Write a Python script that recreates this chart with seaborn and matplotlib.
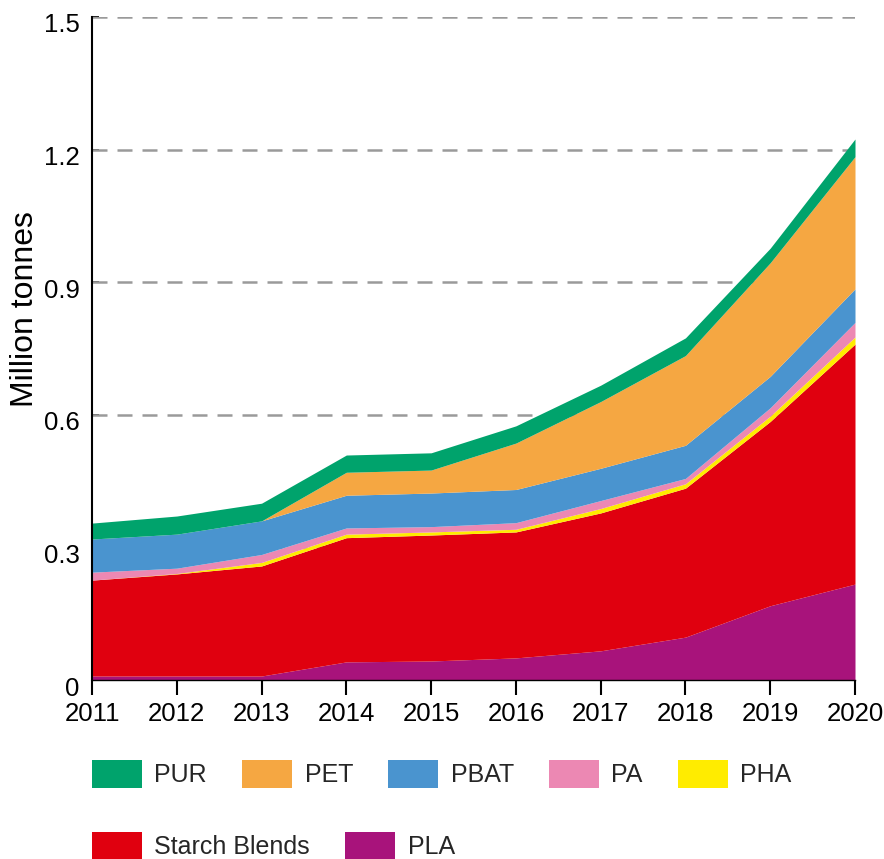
import matplotlib
matplotlib.use("Agg")
import matplotlib.pyplot as plt
import matplotlib.transforms as mtransforms
from matplotlib.patches import Patch
import seaborn as sns

years = [2011, 2012, 2013, 2014, 2015, 2016, 2017, 2018, 2019, 2020]

# stacked from the bottom up, million tonnes
pla = [0.009, 0.009, 0.009, 0.041, 0.043, 0.050, 0.066, 0.097, 0.168, 0.217]
starch = [0.217, 0.231, 0.249, 0.281, 0.285, 0.285, 0.312, 0.337, 0.417, 0.543]
pha = [0.000, 0.001, 0.008, 0.008, 0.007, 0.006, 0.010, 0.010, 0.012, 0.016]
pa = [0.018, 0.012, 0.018, 0.014, 0.012, 0.015, 0.018, 0.012, 0.019, 0.033]
pbat = [0.075, 0.077, 0.076, 0.074, 0.076, 0.075, 0.073, 0.075, 0.071, 0.076]
pet = [0.000, 0.000, 0.000, 0.052, 0.052, 0.105, 0.151, 0.203, 0.257, 0.299]
pur = [0.036, 0.041, 0.040, 0.039, 0.039, 0.039, 0.037, 0.040, 0.033, 0.040]

series = ["PLA", "Starch Blends", "PHA", "PA", "PBAT", "PET", "PUR"]
colors = {
    "PUR": "#00a36c",
    "PET": "#f5a742",
    "PBAT": "#4a94cf",
    "PA": "#ec88b3",
    "PHA": "#ffec00",
    "Starch Blends": "#e0000f",
    "PLA": "#a8137b",
}
yticks = [0, 0.3, 0.6, 0.9, 1.2, 1.5]
ytick_labels = ["0", "0.3", "0.6", "0.9", "1.2", "1.5"]

sns.set_theme(style="white")
plt.rcParams["font.family"] = ["Liberation Sans", "DejaVu Sans"]

fig = plt.figure(figsize=(8.84, 8.59), dpi=100)
ax = fig.add_axes([92 / 884, 1 - 680 / 859, (855 - 92) / 884, (680 - 17) / 859])

values = [pla, starch, pha, pa, pbat, pet, pur]
ax.stackplot(years, *values, colors=[colors[s] for s in series],
             linewidth=0, zorder=2)

ax.set_xlim(2011, 2020)
ax.set_ylim(0, 1.5)
ax.set_xticks(years)
ax.set_xticklabels([str(y) for y in years], fontsize=18.5)
ax.set_yticks(yticks)
ax.set_yticklabels(ytick_labels, fontsize=18.5)

for y in yticks[1:]:
    ax.axhline(y, color="#9a9a9a", lw=1.8, ls=(0, (6, 4)), zorder=1)

sns.despine(ax=ax)
ax.spines["left"].set_color("black")
ax.spines["left"].set_linewidth(1.5)
ax.spines["left"].set_zorder(3)
ax.spines["bottom"].set_color("black")
ax.spines["bottom"].set_linewidth(1.0)

ax.tick_params(axis="x", direction="out", length=11, width=1.5, color="black",
               pad=5, labelcolor="black", bottom=True)
ax.tick_params(axis="y", direction="in", length=5, width=1.2, color="black",
               pad=9, labelcolor="black", left=True)
offset = mtransforms.ScaledTranslation(0, -6 / 100, fig.dpi_scale_trans)
for lab in ax.get_yticklabels():
    lab.set_transform(lab.get_transform() + offset)

ax.set_ylabel("Million tonnes", fontsize=23, color="black")
ax.yaxis.set_label_coords(-52 / 763, 0.56)

row1 = ["PUR", "PET", "PBAT", "PA", "PHA"]
row2 = ["Starch Blends", "PLA"]
for names, yc in [(row1, 774), (row2, 846)]:
    handles = [Patch(facecolor=colors[n], edgecolor="none", label=n) for n in names]
    fig.legend(handles=handles, loc="center left", ncol=len(names),
               bbox_to_anchor=(92 / 884, 1 - yc / 859), frameon=False,
               fontsize=18, handlelength=2.0, handleheight=1.35,
               handletextpad=0.5, columnspacing=1.4, borderpad=0,
               borderaxespad=0)

fig.savefig("out.png", dpi=100)
